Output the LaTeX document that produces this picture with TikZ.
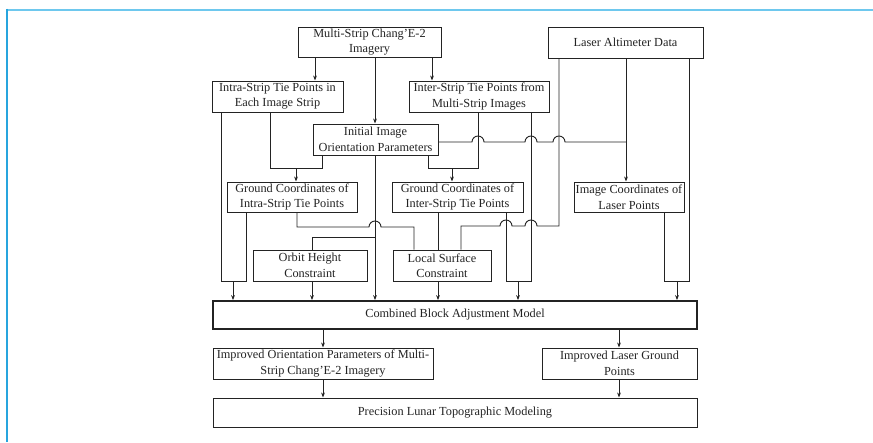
\documentclass[tikz,border=0pt]{standalone}
\usepackage{fontspec}
\setmainfont{Liberation Serif}
\usetikzlibrary{arrows.meta}
\definecolor{framelight}{RGB}{110,200,238}
\definecolor{framedark}{RGB}{40,165,222}
\definecolor{ink}{RGB}{35,35,35}
\begin{document}
\begin{tikzpicture}[x=1pt,y=-1pt,
  box/.style={draw=ink, line width=1pt, fill=white, align=center, inner sep=0pt,
              text=ink, font=\fontsize{12.3}{15.5}\selectfont},
  ln/.style={draw=ink, line width=0.95pt},
  arr/.style={ln, -{Stealth[length=5pt,width=3.8pt]}},
]
\useasboundingbox (0,0) rectangle (873,442);
% frame
\draw[framelight, line width=2pt] (7,9.5) -- (873,9.5);
\draw[framedark, line width=1.6pt] (7,8.5) -- (7,442);

% nodes
\node[box, minimum width=143pt, minimum height=30pt] (ms) at (369.5,42) {Multi-Strip Chang’E-2\\Imagery};
\node[box, minimum width=155pt, minimum height=31pt] (lad) at (625.5,42.5) {Laser Altimeter Data};
\node[box, minimum width=131pt, minimum height=31pt] (intra) at (277.5,96.5) {Intra-Strip Tie Points in\\Each Image Strip};
\node[box, minimum width=140pt, minimum height=31pt] (inter) at (479,96.5) {Inter-Strip Tie Points from\\Multi-Strip Images};
\node[box, minimum width=125pt, minimum height=31pt] (init) at (375.5,139.5) {Initial Image\\Orientation Parameters};
\node[box, minimum width=130pt, minimum height=30pt] (gintra) at (292,197) {Ground Coordinates of\\Intra-Strip Tie Points};
\node[box, minimum width=131pt, minimum height=30pt] (ginter) at (457.5,197) {Ground Coordinates of\\Inter-Strip Tie Points};
\node[box, minimum width=110pt, minimum height=30pt] (imgc) at (629,197) {Image Coordinates of\\Laser Points};
\node[box, minimum width=114pt, minimum height=31pt] (orbit) at (310,265.5) {Orbit Height\\Constraint};
\node[box, minimum width=98pt, minimum height=31pt] (local) at (442,265.5) {Local Surface\\Constraint};
\node[box, line width=1.8pt, minimum width=484pt, minimum height=28pt] (cbam) at (455,315) {Combined Block Adjustment Model};
\node[box, minimum width=220pt, minimum height=31pt] (iop) at (323,363.5) {Improved Orientation Parameters of Multi-\\Strip Chang’E-2 Imagery};
\node[box, minimum width=155pt, minimum height=31pt] (ilgp) at (619.5,363.5) {Improved Laser Ground\\Points};
\node[box, minimum width=484pt, minimum height=29pt] (plt) at (455,412.5) {Precision Lunar Topographic Modeling};

% column / bend coordinates
\coordinate (a1) at (315,0);
\coordinate (a2) at (375,0);
\coordinate (a3) at (432,0);
\coordinate (d1) at (270,168);
\coordinate (d2) at (322,168);
\coordinate (d3) at (296,168);
\coordinate (e1) at (478,168);
\coordinate (e2) at (428,168);
\coordinate (e3) at (452,168);
\coordinate (hf1) at (478,142);
\coordinate (hf2) at (531,142);
\coordinate (hf3) at (559,142);
\coordinate (f1) at (626,142);
\coordinate (g1) at (312,237);
\coordinate (k1) at (221,281);
\coordinate (k2) at (246,281);
\coordinate (k3) at (233,281);
\coordinate (i1) at (297,227);
\coordinate (hi) at (375,227);
\coordinate (i2) at (414,227);
\coordinate (j1) at (438,0);
\coordinate (m1) at (559,226);
\coordinate (hm1) at (531,226);
\coordinate (hm2) at (506,226);
\coordinate (m2) at (461,226);
\coordinate (l1) at (506,281);
\coordinate (l2) at (531,281);
\coordinate (l3) at (518,281);
\coordinate (n1) at (664,281);
\coordinate (n2) at (689,281);
\coordinate (n3) at (677,281);
\coordinate (o1) at (323,0);
\coordinate (o2) at (619,0);

% connectors from imagery
\draw[arr] (ms.south -| a1) -- (intra.north -| a1);
\draw[arr] (ms.south -| a2) -- (init.north -| a2);
\draw[arr] (ms.south -| a3) -- (inter.north -| a3);

% to ground coordinates
\draw[ln] (intra.south -| d1) -- (d1) -- (d2) -- (init.south -| d2);
\draw[arr] (d3) -- (gintra.north -| d3);
\draw[ln] (inter.south -| e1) -- (e1) -- (e2) -- (init.south -| e2);
\draw[arr] (e3) -- (ginter.north -| e3);

% initial orientation to image coordinates (with hops)
\draw[ln] (init.east |- f1)
  -- ([xshift=-6pt]hf1) arc[start angle=180, end angle=0, radius=6pt]
  -- ([xshift=-6pt]hf2) arc[start angle=180, end angle=0, radius=6pt]
  -- ([xshift=-6pt]hf3) arc[start angle=180, end angle=0, radius=6pt]
  -- (f1);
\draw[arr] (lad.south -| f1) -- (imgc.north -| f1);

% initial orientation straight down, and orbit height
\draw[arr] (init.south -| a2) -- (cbam.north -| a2);
\draw[ln] (orbit.north -| g1) -- (g1) -- (g1 -| a2);

% intra-strip to combined
\draw[ln] (intra.south -| k1) -- (k1) -- (k2) -- (gintra.south -| k2);
\draw[arr] (k3) -- (cbam.north -| k3);

% ground intra to local surface (hop)
\draw[ln] (gintra.south -| i1) -- (i1)
  -- ([xshift=-6pt]hi) arc[start angle=180, end angle=0, radius=6pt]
  -- (i2) -- (local.north -| i2);
\draw[ln] (ginter.south -| j1) -- (local.north -| j1);

% laser data to local surface (hops)
\draw[ln] (lad.south -| m1) -- (m1)
  -- ([xshift=6pt]hm1) arc[start angle=0, end angle=180, radius=6pt]
  -- ([xshift=6pt]hm2) arc[start angle=0, end angle=180, radius=6pt]
  -- (m2) -- (local.north -| m2);

% inter to combined
\draw[ln] (ginter.south -| l1) -- (l1) -- (l2) -- (inter.south -| l2);
\draw[arr] (l3) -- (cbam.north -| l3);

% laser to combined
\draw[ln] (imgc.south -| n1) -- (n1) -- (n2) -- (lad.south -| n2);
\draw[arr] (n3) -- (cbam.north -| n3);

% constraints to combined
\draw[arr] (orbit.south -| g1) -- (cbam.north -| g1);
\draw[arr] (local.south -| j1) -- (cbam.north -| j1);

% outputs
\draw[arr] (cbam.south -| o1) -- (iop.north -| o1);
\draw[arr] (cbam.south -| o2) -- (ilgp.north -| o2);
\draw[arr] (iop.south -| o1) -- (plt.north -| o1);
\draw[arr] (ilgp.south -| o2) -- (plt.north -| o2);
\end{tikzpicture}
\end{document}
